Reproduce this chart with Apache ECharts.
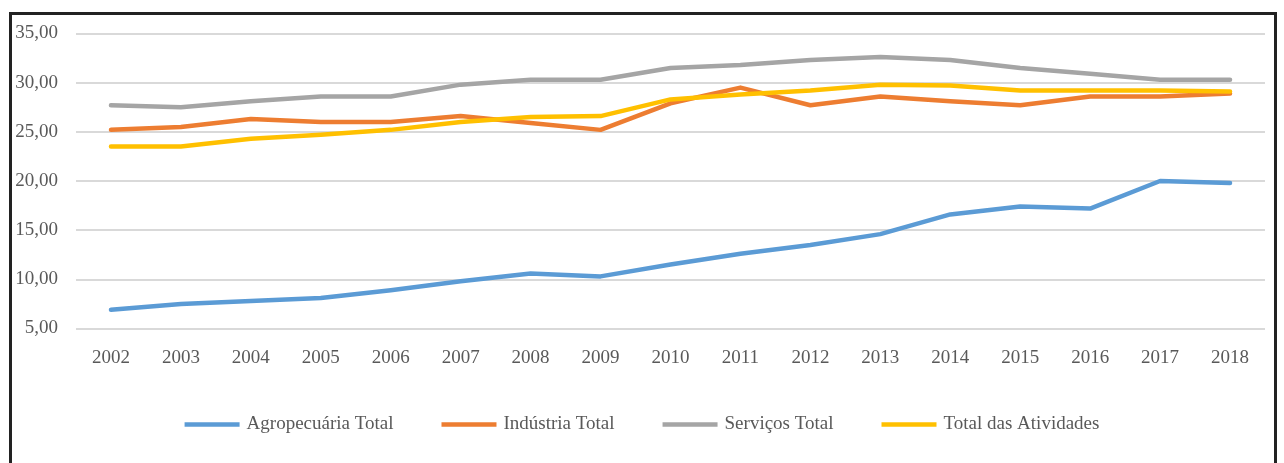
<!DOCTYPE html>
<html>
<head>
<meta charset="utf-8">
<script src="https://cdn.jsdelivr.net/npm/echarts@6/dist/echarts.min.js"></script>
<style>
  html, body { margin: 0; padding: 0; background: #fff; }
  #wrap { position: relative; width: 1284px; height: 463px; overflow: hidden; }
  #frame { position: absolute; left: 9px; top: 12px; width: 1268px; height: 470px;
           border: 3px solid #222; box-sizing: border-box; }
  #chart { position: absolute; left: 0; top: 0; width: 1284px; height: 463px; }
</style>
</head>
<body>
<div id="wrap">
  <div id="frame"></div>
  <div id="chart"></div>
</div>
<script>
// anos
const years = ['2002','2003','2004','2005','2006','2007','2008','2009','2010',
  '2011','2012','2013','2014','2015','2016','2017','2018']

// valores
const agropecuaria = [6.9, 7.5, 7.8, 8.1, 8.9, 9.8, 10.6, 10.3, 11.5, 12.6, 13.5, 14.6, 16.6, 17.4, 17.2, 20.0, 19.8]
const industria = [25.2, 25.5, 26.3, 26.0, 26.0, 26.6, 25.9, 25.2, 27.9, 29.5, 27.7, 28.6, 28.1, 27.7, 28.6, 28.6, 28.9]
const servicos = [27.7, 27.5, 28.1, 28.6, 28.6, 29.8, 30.3, 30.3, 31.5, 31.8, 32.3, 32.6, 32.3, 31.5, 30.9, 30.3, 30.3]
const totalAtividades = [23.5, 23.5, 24.3, 24.7, 25.2, 26.0, 26.5, 26.6, 28.3, 28.8, 29.2, 29.8, 29.7, 29.2, 29.2, 29.2, 29.1]

const seriesNames = ['Agropecuária Total', 'Indústria Total', 'Serviços Total', 'Total das Atividades']
const colors = ['#5B9BD5', '#ED7D31', '#A5A5A5', '#FFC000']

const txtFont = '"Liberation Serif", "DejaVu Serif", serif'

function mkLine(name, data, color) {
  return {
    name: name,
    type: 'line',
    data: data,
    symbol: 'none',
    smooth: false,
    lineStyle: { color: color, width: 4.5, cap: 'round', join: 'round' },
    itemStyle: { color: color }
  }
}

const chart = echarts.init(document.getElementById('chart'), null, { renderer: 'canvas' })

chart.setOption({
  animation: false,
  backgroundColor: 'transparent',
  grid: { left: 76, right: 19, top: 33.5, bottom: 134.5, containLabel: false },
  legend: {
    top: 410,
    left: 'center',
    icon: 'rect',
    itemWidth: 55,
    itemHeight: 4.5,
    itemGap: 48,
    textStyle: { fontFamily: txtFont, fontSize: 19, color: '#595959', padding: [0, 0, 0, 2] },
    data: seriesNames
  },
  xAxis: {
    type: 'category',
    data: years,
    boundaryGap: true,
    axisLine: { show: false },
    axisTick: { show: false },
    axisLabel: { fontFamily: txtFont, fontSize: 19, color: '#595959', margin: 20 }
  },
  yAxis: {
    type: 'value',
    min: 5,
    max: 35,
    interval: 5,
    axisLine: { show: false },
    axisTick: { show: false },
    splitLine: { lineStyle: { color: '#D9D9D9', width: 2 } },
    axisLabel: {
      fontFamily: txtFont, fontSize: 19, color: '#595959', margin: 18,
      formatter: v => v.toFixed(2).replace('.', ',')
    }
  },
  series: [
    mkLine(seriesNames[0], agropecuaria, colors[0]),
    mkLine(seriesNames[1], industria, colors[1]),
    mkLine(seriesNames[2], servicos, colors[2]),
    mkLine(seriesNames[3], totalAtividades, colors[3])
  ]
})
</script>
</body>
</html>
